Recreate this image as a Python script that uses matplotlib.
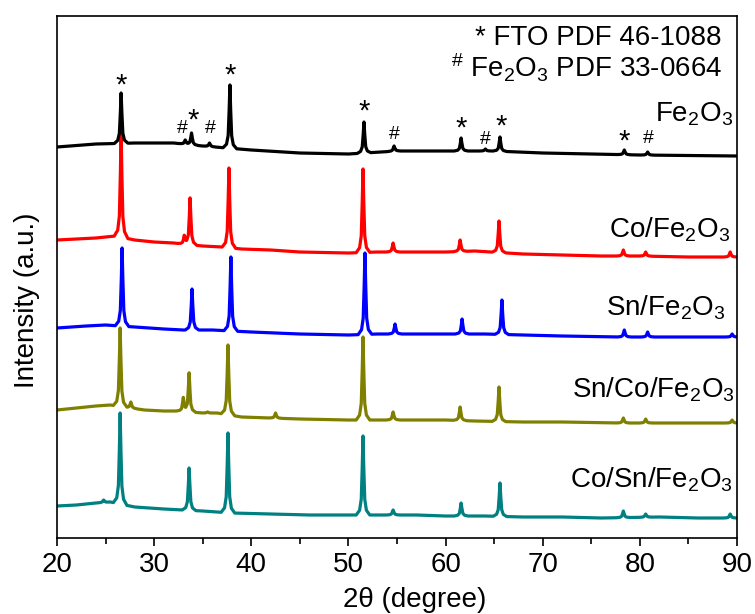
import numpy as np
import matplotlib
matplotlib.use('Agg')
import matplotlib.pyplot as plt
from matplotlib.ticker import MultipleLocator

plt.rcParams['font.family'] = ['Liberation Sans', 'DejaVu Sans']
plt.rcParams['mathtext.fontset'] = 'custom'
plt.rcParams['mathtext.rm'] = 'Liberation Sans'
plt.rcParams['mathtext.it'] = 'Liberation Sans:italic'
plt.rcParams['mathtext.bf'] = 'Liberation Sans:bold'

#
# XRD patterns, already stacked (a.u.): baseline knots + peak positions/apex
#
fe_base_x = [20, 24, 28, 32, 35, 40, 45, 50, 55, 60, 65, 70, 80, 90]
fe_base_y = [391, 394, 395, 395, 392, 388, 385, 384, 387, 387, 387, 385, 383, 382]
fe_peak_x = [26.6, 33.2, 33.85, 35.7, 37.8, 51.6, 54.7, 61.6, 64.1, 65.6, 78.4, 80.8]
fe_peak_top = [445, 398, 405, 395, 453, 416, 392, 400, 389, 401, 388, 386]

co_base_x = [20, 24, 26, 28, 30, 32, 35, 37, 39, 42, 45, 50, 53, 56, 60, 63, 68, 72, 76, 80, 85, 90]
co_base_y = [298, 300, 302, 298, 296, 295, 292, 291, 289, 288, 286, 285, 286, 286, 286, 287, 284, 283, 282, 282, 281, 281]
co_peak_x = [26.6, 33.1, 33.7, 37.7, 51.5, 54.6, 61.5, 65.5, 78.3, 80.6, 89.3]
co_peak_top = [405, 302, 340, 370, 369, 295, 298, 317, 288, 286, 286]

sn_base_x = [20, 23, 25, 28, 31, 33, 36, 40, 45, 50, 53, 57, 60, 64, 68, 72, 78, 84, 90]
sn_base_y = [210, 212, 213, 211, 209, 208, 208, 206, 204, 203, 204, 204, 204, 204, 203, 202, 201, 201, 201]
sn_peak_x = [26.7, 33.9, 37.9, 51.7, 54.8, 61.7, 65.8, 78.4, 80.8, 89.5]
sn_peak_top = [290, 249, 281, 285, 214, 219, 238, 208, 206, 204]

snco_base_x = [20, 22, 24, 25.5, 29, 31, 32.5, 35, 36.5, 39, 45, 50, 53, 57, 60, 63, 68, 72, 78, 84, 90]
snco_base_y = [128, 130, 132, 133, 128, 127, 127, 125, 125, 121, 119, 118, 118, 118, 118, 117, 116, 116, 115, 115, 115]
snco_peak_x = [26.5, 27.6, 33.0, 33.6, 35.5, 37.6, 42.5, 51.5, 54.6, 61.5, 65.5, 78.3, 80.6, 89.5]
snco_peak_top = [210, 136, 140, 165, 126, 193, 125, 201, 126, 131, 151, 120, 119, 118]

cosn_base_x = [20, 22, 24, 25.5, 28, 31, 33, 35, 38, 42, 46, 50, 53, 57, 60, 64, 68, 72, 76, 82, 86, 90]
cosn_base_y = [32, 33, 35, 36, 31, 29, 28, 27, 25, 24, 23, 23, 23, 23, 22, 22, 21, 21, 20, 21, 20, 20]
cosn_peak_x = [24.8, 26.5, 33.6, 37.6, 51.5, 54.6, 61.6, 65.6, 78.3, 80.6, 89.3]
cosn_peak_top = [38, 125, 70, 105, 102, 28, 35, 55, 27, 24, 24]

names = ['Fe$_2$O$_3$', 'Co/Fe$_2$O$_3$', 'Sn/Fe$_2$O$_3$',
         'Sn/Co/Fe$_2$O$_3$', 'Co/Sn/Fe$_2$O$_3$']
colors = ['black', '#ff0000', '#0000ff', '#808000', '#008080']
name_x = [89.6, 89.3, 88.8, 89.8, 89.6]
name_y = [416, 300, 223, 141, 51]

# reflection marks above the bare Fe2O3 pattern (* FTO, # Fe2O3)
mark_sym = ['*', '#', '*', '#', '*', '*', '#', '*', '#', '*', '*', '#']
mark_x = [26.6, 32.9, 34.0, 35.8, 37.8, 51.6, 54.7, 61.6, 64.1, 65.7, 78.4, 80.9]
mark_y = [444, 405, 409, 405, 454, 418, 399, 401, 394, 403, 388, 395]

# peak outline: (offset in degrees, fraction of peak height)
PEAK_SHAPE = [(-0.7, 0.0), (-0.35, 0.06), (-0.18, 0.2), (-0.08, 0.6), (0.0, 1.0),
              (0.08, 0.6), (0.18, 0.2), (0.35, 0.06), (0.7, 0.0)]


def trace(base_x, base_y, peak_x, peak_top):
    xs = list(base_x)
    for c in peak_x:
        xs += [c + d for d, f in PEAK_SHAPE]
    xs = np.unique(np.clip(xs, 20, 90))
    ys = np.interp(xs, base_x, base_y)
    sx = [d for d, f in PEAK_SHAPE]
    sf = [f for d, f in PEAK_SHAPE]
    for c, top in zip(peak_x, peak_top):
        h = top - np.interp(c, base_x, base_y)
        ys = ys + h * np.interp(xs - c, sx, sf, left=0, right=0)
    return xs, ys


patterns = [
    (fe_base_x, fe_base_y, fe_peak_x, fe_peak_top),
    (co_base_x, co_base_y, co_peak_x, co_peak_top),
    (sn_base_x, sn_base_y, sn_peak_x, sn_peak_top),
    (snco_base_x, snco_base_y, snco_peak_x, snco_peak_top),
    (cosn_base_x, cosn_base_y, cosn_peak_x, cosn_peak_top),
]

fig = plt.figure(figsize=(7.55, 6.14), dpi=100)
ax = fig.add_axes([57 / 755, 76 / 614, 680 / 755, 522 / 614])

# draw bottom pattern first so upper ones sit on top
for i in reversed(range(len(patterns))):
    xs, ys = trace(*patterns[i])
    ax.plot(xs, ys, color=colors[i], lw=2.3, zorder=2 + (5 - i) * 0.1)
    ax.text(name_x[i], name_y[i], names[i], fontsize=20, ha='right', va='baseline')

for s, x, y in zip(mark_sym, mark_x, mark_y):
    if s == '*':
        ax.text(x, y, s, fontsize=21, ha='center', va='baseline')
    else:
        ax.text(x, y, s, fontsize=14, ha='center', va='baseline')

ax.text(88.45, 493, '* FTO PDF 46-1088', fontsize=20, ha='right', va='baseline')
ax.text(88.45, 460, r'$^{\#}$ Fe$_2$O$_3$ PDF 33-0664', fontsize=20, ha='right', va='baseline')

ax.set_xlim(20, 90)
ax.set_ylim(0, 522)
ax.set_yticks([])
ax.xaxis.set_major_locator(MultipleLocator(10))
ax.xaxis.set_minor_locator(MultipleLocator(5))
ax.tick_params(axis='x', which='major', direction='out', length=6, width=1.2,
               labelsize=20, pad=4)
ax.tick_params(axis='x', which='minor', direction='out', length=4, width=1.2)
for sp in ax.spines.values():
    sp.set_linewidth(1.2)

fig.text(415 / 755, 1 - 600 / 614, '2θ (degree)', fontsize=20, ha='center', va='center')
fig.text(27 / 755, 1 - 300 / 614, 'Intensity (a.u.)', fontsize=20, rotation=90,
         ha='center', va='center')

fig.savefig('out.png', dpi=100)
